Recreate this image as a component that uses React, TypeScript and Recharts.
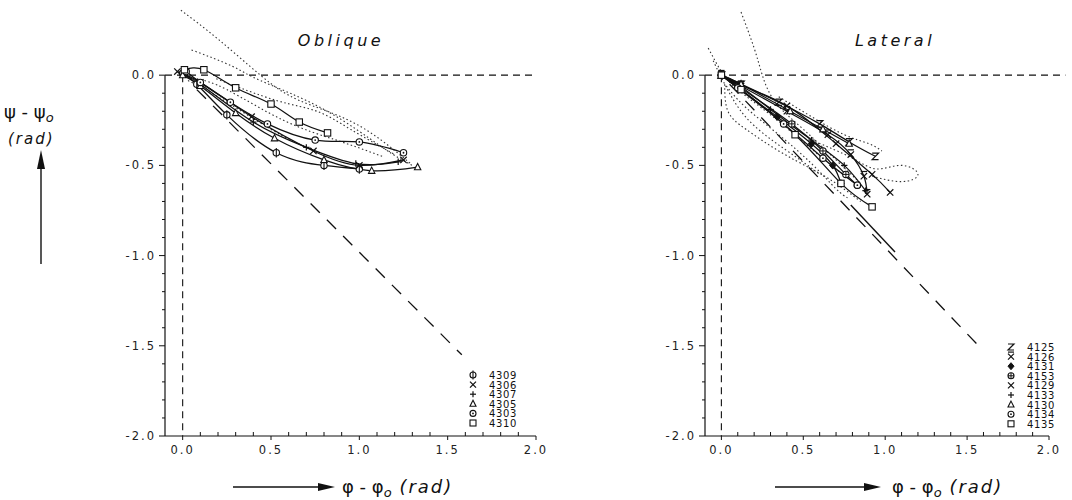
import React from "react";
import { LineChart, Line, XAxis, YAxis, ReferenceLine } from "recharts";

// --- tick values ---
const xTicks = [0, 0.1, 0.2, 0.3, 0.4, 0.5, 0.6, 0.7, 0.8, 0.9, 1.0, 1.1, 1.2, 1.3, 1.4, 1.5, 1.6, 1.7, 1.8, 1.9, 2.0];
const yTicks = [0, -0.1, -0.2, -0.3, -0.4, -0.5, -0.6, -0.7, -0.8, -0.9, -1.0, -1.1, -1.2, -1.3, -1.4, -1.5, -1.6, -1.7, -1.8, -1.9, -2.0];

// --- Oblique: measured runs (solid) ---
const obl4309 = [{ x: 0, y: 0.01 }, { x: 0.08, y: -0.05 }, { x: 0.25, y: -0.22 }, { x: 0.53, y: -0.43 }, { x: 0.8, y: -0.5 }, { x: 1.0, y: -0.52 }];
const obl4306 = [{ x: -0.03, y: 0.02 }, { x: 0.1, y: -0.04 }, { x: 0.39, y: -0.23 }, { x: 0.74, y: -0.42 }, { x: 1.0, y: -0.5 }, { x: 1.25, y: -0.47 }];
const obl4307 = [{ x: 0, y: 0 }, { x: 0.1, y: -0.05 }, { x: 0.4, y: -0.26 }, { x: 0.7, y: -0.4 }, { x: 0.98, y: -0.49 }, { x: 1.22, y: -0.48 }];
const obl4305 = [{ x: 0, y: 0 }, { x: 0.1, y: -0.06 }, { x: 0.3, y: -0.21 }, { x: 0.52, y: -0.35 }, { x: 0.8, y: -0.47 }, { x: 1.07, y: -0.53 }, { x: 1.33, y: -0.51 }];
const obl4303 = [{ x: 0.02, y: 0.02 }, { x: 0.1, y: -0.04 }, { x: 0.27, y: -0.15 }, { x: 0.48, y: -0.27 }, { x: 0.75, y: -0.36 }, { x: 1.0, y: -0.37 }, { x: 1.25, y: -0.43 }];
const obl4310 = [{ x: 0.01, y: 0.03 }, { x: 0.12, y: 0.03 }, { x: 0.3, y: -0.07 }, { x: 0.5, y: -0.16 }, { x: 0.66, y: -0.26 }, { x: 0.82, y: -0.32 }];

// --- Oblique: dotted runs ---
const oblDot1 = [{ x: -0.01, y: 0.36 }, { x: 0.2, y: 0.2 }, { x: 0.44, y: 0.0 }, { x: 0.66, y: -0.14 }, { x: 0.98, y: -0.27 }, { x: 1.29, y: -0.49 }];
const oblDot2 = [{ x: 0.05, y: 0.14 }, { x: 0.28, y: 0.05 }, { x: 0.44, y: -0.03 }, { x: 0.8, y: -0.19 }, { x: 1.13, y: -0.4 }, { x: 1.3, y: -0.5 }];
const oblDot3 = [{ x: 0.19, y: -0.02 }, { x: 0.53, y: -0.14 }, { x: 0.76, y: -0.2 }, { x: 0.95, y: -0.3 }, { x: 1.2, y: -0.44 }];
const oblDot4 = [{ x: 0.08, y: -0.02 }, { x: 0.25, y: -0.08 }, { x: 0.57, y: -0.25 }, { x: 0.87, y: -0.36 }, { x: 1.13, y: -0.45 }];
const oblDot5 = [{ x: 0.03, y: -0.03 }, { x: 0.2, y: -0.12 }, { x: 0.5, y: -0.3 }, { x: 0.7, y: -0.4 }];
const oblDiag = [{ x: 0.08, y: -0.08 }, { x: 1.58, y: -1.55 }];

// --- Lateral: measured runs (solid) ---
const lat4125 = [{ x: 0, y: 0 }, { x: 0.12, y: -0.05 }, { x: 0.35, y: -0.15 }, { x: 0.6, y: -0.27 }, { x: 0.78, y: -0.37 }, { x: 0.94, y: -0.45 }];
const lat4126 = [{ x: 0, y: 0 }, { x: 0.12, y: -0.06 }, { x: 0.4, y: -0.2 }, { x: 0.65, y: -0.33 }, { x: 0.79, y: -0.44 }, { x: 0.87, y: -0.56 }, { x: 0.89, y: -0.66 }];
const lat4131 = [{ x: 0, y: 0 }, { x: 0.1, y: -0.07 }, { x: 0.34, y: -0.23 }, { x: 0.55, y: -0.38 }, { x: 0.68, y: -0.5 }, { x: 0.73, y: -0.6 }];
const lat4153 = [{ x: 0, y: 0 }, { x: 0.1, y: -0.06 }, { x: 0.43, y: -0.27 }, { x: 0.62, y: -0.42 }, { x: 0.76, y: -0.55 }, { x: 0.83, y: -0.61 }];
const lat4129 = [{ x: 0, y: 0 }, { x: 0.1, y: -0.05 }, { x: 0.4, y: -0.17 }, { x: 0.7, y: -0.38 }, { x: 0.92, y: -0.55 }, { x: 1.03, y: -0.65 }];
const lat4133 = [{ x: 0, y: 0 }, { x: 0.1, y: -0.05 }, { x: 0.3, y: -0.19 }, { x: 0.55, y: -0.36 }, { x: 0.75, y: -0.5 }, { x: 0.88, y: -0.64 }];
const lat4130 = [{ x: 0, y: 0 }, { x: 0.12, y: -0.05 }, { x: 0.42, y: -0.2 }, { x: 0.62, y: -0.3 }, { x: 0.78, y: -0.38 }];
const lat4134 = [{ x: 0, y: 0 }, { x: 0.1, y: -0.07 }, { x: 0.38, y: -0.27 }, { x: 0.62, y: -0.46 }, { x: 0.83, y: -0.61 }];
const lat4135 = [{ x: 0, y: 0 }, { x: 0.12, y: -0.08 }, { x: 0.45, y: -0.33 }, { x: 0.73, y: -0.6 }, { x: 0.92, y: -0.73 }];

// --- Lateral: dotted runs ---
const latDot1 = [{ x: -0.08, y: 0.15 }, { x: 0.0, y: 0.02 }, { x: 0.1, y: -0.08 }, { x: 0.3, y: -0.22 }, { x: 0.5, y: -0.37 }, { x: 0.7, y: -0.52 }, { x: 0.85, y: -0.62 }];
const latDot2 = [{ x: 0.12, y: 0.35 }, { x: 0.2, y: 0.15 }, { x: 0.25, y: 0.0 }, { x: 0.33, y: -0.15 }, { x: 0.5, y: -0.3 }, { x: 0.7, y: -0.47 }, { x: 0.85, y: -0.6 }];
const latDot3 = [{ x: 0.02, y: -0.05 }, { x: 0.04, y: -0.2 }, { x: 0.15, y: -0.3 }, { x: 0.35, y: -0.42 }, { x: 0.55, y: -0.52 }, { x: 0.7, y: -0.6 }, { x: 0.85, y: -0.7 }];
const latDot4 = [{ x: 0.03, y: -0.06 }, { x: 0.15, y: -0.18 }, { x: 0.35, y: -0.33 }, { x: 0.55, y: -0.49 }, { x: 0.7, y: -0.63 }, { x: 0.77, y: -0.68 }];
const latDot5 = [{ x: 0.55, y: -0.36 }, { x: 0.8, y: -0.46 }, { x: 0.95, y: -0.52 }, { x: 1.1, y: -0.5 }, { x: 1.2, y: -0.55 }, { x: 1.1, y: -0.59 }, { x: 0.92, y: -0.56 }];
const latDot6 = [{ x: 0.35, y: -0.12 }, { x: 0.55, y: -0.23 }, { x: 0.75, y: -0.33 }, { x: 0.9, y: -0.38 }, { x: 0.98, y: -0.42 }];
const latDot7 = [{ x: -0.05, y: 0.08 }, { x: 0.05, y: -0.1 }, { x: 0.2, y: -0.28 }, { x: 0.45, y: -0.45 }, { x: 0.6, y: -0.55 }];
const latSeg = [{ x: 0.79, y: -0.72 }, { x: 1.06, y: -0.98 }];
const latDiag = [{ x: 0.05, y: -0.05 }, { x: 1.57, y: -1.5 }];

const obliqueRuns = [
  { name: "4309", shape: "circleBar", data: obl4309 },
  { name: "4306", shape: "x", data: obl4306 },
  { name: "4307", shape: "plus", data: obl4307 },
  { name: "4305", shape: "triangle", data: obl4305 },
  { name: "4303", shape: "circleDot", data: obl4303 },
  { name: "4310", shape: "square", data: obl4310 },
];
const lateralRuns = [
  { name: "4125", shape: "z", data: lat4125 },
  { name: "4126", shape: "xbar", data: lat4126 },
  { name: "4131", shape: "diamond", data: lat4131 },
  { name: "4153", shape: "circlePlus", data: lat4153 },
  { name: "4129", shape: "x", data: lat4129 },
  { name: "4133", shape: "plus", data: lat4133 },
  { name: "4130", shape: "triangle", data: lat4130 },
  { name: "4134", shape: "circleDot", data: lat4134 },
  { name: "4135", shape: "square", data: lat4135 },
];

const FONT = '"DejaVu Sans", sans-serif';
const INK = "#111";

function Marker({ shape, cx, cy, r = 3.2 }: { shape: string; cx: number; cy: number; r?: number }) {
  const st = { stroke: INK, strokeWidth: 1.1, fill: "#fff" };
  switch (shape) {
    case "square":
      return <rect x={cx - r} y={cy - r} width={2 * r} height={2 * r} {...st} />;
    case "circleDot":
      return (
        <g>
          <circle cx={cx} cy={cy} r={r} {...st} />
          <circle cx={cx} cy={cy} r={0.9} fill={INK} />
        </g>
      );
    case "circleBar":
      return (
        <g>
          <circle cx={cx} cy={cy} r={r} {...st} />
          <line x1={cx} x2={cx} y1={cy - r - 1.5} y2={cy + r + 1.5} stroke={INK} strokeWidth={1.1} />
        </g>
      );
    case "circlePlus":
      return (
        <g>
          <circle cx={cx} cy={cy} r={r} {...st} />
          <line x1={cx - r} x2={cx + r} y1={cy} y2={cy} stroke={INK} strokeWidth={1} />
          <line x1={cx} x2={cx} y1={cy - r} y2={cy + r} stroke={INK} strokeWidth={1} />
        </g>
      );
    case "triangle":
      return <polygon points={`${cx},${cy - r - 0.5} ${cx - r},${cy + r * 0.8} ${cx + r},${cy + r * 0.8}`} {...st} />;
    case "x":
      return (
        <g stroke={INK} strokeWidth={1.2}>
          <line x1={cx - r} y1={cy - r} x2={cx + r} y2={cy + r} />
          <line x1={cx - r} y1={cy + r} x2={cx + r} y2={cy - r} />
        </g>
      );
    case "xbar":
      return (
        <g stroke={INK} strokeWidth={1.2}>
          <line x1={cx - r} y1={cy - r} x2={cx + r} y2={cy + r} />
          <line x1={cx - r} y1={cy + r} x2={cx + r} y2={cy - r} />
          <line x1={cx - r} y1={cy - r - 1.5} x2={cx + r} y2={cy - r - 1.5} />
        </g>
      );
    case "plus":
      return (
        <g stroke={INK} strokeWidth={1.2}>
          <line x1={cx - r} y1={cy} x2={cx + r} y2={cy} />
          <line x1={cx} y1={cy - r} x2={cx} y2={cy + r} />
        </g>
      );
    case "z":
      return <polyline points={`${cx - r},${cy - r} ${cx + r},${cy - r} ${cx - r},${cy + r} ${cx + r},${cy + r}`} fill="none" stroke={INK} strokeWidth={1.2} />;
    case "diamond":
      return <polygon points={`${cx},${cy - r - 0.5} ${cx + r},${cy} ${cx},${cy + r + 0.5} ${cx - r},${cy}`} fill={INK} stroke={INK} />;
    default:
      return <circle cx={cx} cy={cy} r={r} {...st} />;
  }
}

const isMajor = (v: number) => Math.abs(v * 2 - Math.round(v * 2)) < 1e-6;
const fmt = (v: number) => (Math.abs(v) < 1e-9 ? "0.0" : v.toFixed(1));

function XTick({ x, y, payload }: any) {
  const v = payload.value;
  const major = isMajor(v);
  return (
    <g>
      <line x1={x} x2={x} y1={major ? y : y - 4} y2={major ? y + 4 : y} stroke={INK} strokeWidth={1} />
      {major && (
        <text x={x} y={y + 18} textAnchor="middle" fontSize={11.5} letterSpacing={2} fontFamily={FONT} fill="#222">
          {fmt(v)}
        </text>
      )}
    </g>
  );
}

function YTick({ x, y, payload }: any) {
  const v = payload.value;
  const major = isMajor(v);
  return (
    <g>
      <line x1={major ? x - 6 : x - 3} x2={x} y1={y} y2={y} stroke={INK} strokeWidth={1} />
      {major && (
        <text x={x - 9} y={y + 4} textAnchor="end" fontSize={11.5} letterSpacing={2} fontFamily={FONT} fill="#222">
          {fmt(v)}
        </text>
      )}
    </g>
  );
}

function Panel({ runs, dotted, solidExtra, diag, width, right, zeroEnd }: any) {
  return (
    <LineChart width={width} height={470} margin={{ top: 3, right, bottom: 4, left: 0 }}>
      <XAxis
        dataKey="x"
        type="number"
        domain={[-0.1, 2.0]}
        ticks={xTicks}
        interval={0}
        height={30}
        tickSize={0}
        tickMargin={0}
        tickLine={false}
        axisLine={{ stroke: INK, strokeWidth: 1.2 }}
        tick={(p: any) => <XTick {...p} />}
      />
      <YAxis
        type="number"
        domain={[-2.0, 0.4]}
        ticks={yTicks}
        interval={0}
        width={165}
        tickSize={0}
        tickMargin={0}
        tickLine={false}
        axisLine={false}
        tick={(p: any) => <YTick {...p} />}
      />
      <ReferenceLine segment={[{ x: -0.1, y: 0 }, { x: -0.1, y: -2.0 }]} stroke={INK} strokeWidth={1.2} />
      <ReferenceLine segment={[{ x: 0, y: 0 }, { x: 0, y: -2.0 }]} stroke={INK} strokeWidth={1.1} strokeDasharray="7 5" />
      <ReferenceLine segment={[{ x: -0.1, y: 0 }, { x: zeroEnd, y: 0 }]} ifOverflow="visible" stroke={INK} strokeWidth={1.1} strokeDasharray="7 5" />
      <Line data={diag} dataKey="y" type="linear" stroke={INK} strokeWidth={1.3} strokeDasharray="13 10" dot={false} activeDot={false} isAnimationActive={false} />
      {dotted.map((d: any, i: number) => (
        <Line key={`dot-${i}`} data={d} dataKey="y" type="natural" stroke="#333" strokeWidth={1.1} strokeDasharray="1.5 2.5" dot={false} activeDot={false} isAnimationActive={false} />
      ))}
      {solidExtra.map((d: any, i: number) => (
        <Line key={`seg-${i}`} data={d} dataKey="y" type="linear" stroke={INK} strokeWidth={1.4} dot={false} activeDot={false} isAnimationActive={false} />
      ))}
      {runs.map((r: any) => (
        <Line
          key={r.name}
          data={r.data}
          dataKey="y"
          type="natural"
          stroke={INK}
          strokeWidth={1.25}
          activeDot={false}
          isAnimationActive={false}
          dot={(p: any) => <Marker key={`${r.name}-${p.index}`} shape={r.shape} cx={p.cx} cy={p.cy} />}
        />
      ))}
    </LineChart>
  );
}

function LegendBlock({ runs, x, y }: { runs: any[]; x: number; y: number }) {
  return (
    <g>
      {runs.map((r, i) => (
        <g key={r.name}>
          <Marker shape={r.shape} cx={x} cy={y + i * 9.6} r={3} />
          <text x={x + 16} y={y + i * 9.6 + 4} fontSize={10} letterSpacing={0.6} fontFamily={FONT} fill={INK}>
            {r.name}
          </text>
        </g>
      ))}
    </g>
  );
}

export default function App() {
  return (
    <div style={{ position: "absolute", left: 0, top: 0, width: 1072, height: 500, background: "#fff", fontFamily: FONT, overflow: "hidden" }}>
      <div style={{ position: "absolute", left: 0, top: 0 }}>
        <Panel runs={obliqueRuns} dotted={[oblDot1, oblDot2, oblDot3, oblDot4, oblDot5]} solidExtra={[]} diag={oblDiag} width={560} right={24} zeroEnd={2.0} />
      </div>
      <div style={{ position: "absolute", left: 540, top: 0 }}>
        <Panel runs={lateralRuns} dotted={[latDot1, latDot2, latDot3, latDot4, latDot5, latDot6, latDot7]} solidExtra={[latSeg]} diag={latDiag} width={532} right={23} zeroEnd={2.1} />
      </div>
      <svg width={1072} height={500} style={{ position: "absolute", left: 0, top: 0, pointerEvents: "none" }}>
        <text x={341} y={46} textAnchor="middle" fontSize={16} fontStyle="italic" letterSpacing={3.5} fontFamily={FONT} fill={INK}>Oblique</text>
        <text x={895} y={46} textAnchor="middle" fontSize={16} fontStyle="italic" letterSpacing={3.5} fontFamily={FONT} fill={INK}>Lateral</text>

        <text x={4} y={118} fontSize={18} fontFamily={FONT} fill={INK}>
          ψ - ψ<tspan dy={4} fontSize={13} fontStyle="italic">o</tspan>
        </text>
        <text x={8} y={144} fontSize={15} fontStyle="italic" letterSpacing={2} fontFamily={FONT} fill={INK}>(rad)</text>
        <line x1={41} x2={41} y1={264} y2={166} stroke={INK} strokeWidth={1.4} />
        <polygon points="41,150 37,169 45,169" fill={INK} />

        <line x1={233} x2={320} y1={487} y2={487} stroke={INK} strokeWidth={1.4} />
        <polygon points="335,487 318,483 318,491" fill={INK} />
        <text x={342} y={493} fontSize={18} fontFamily={FONT} fill={INK}>
          φ - φ<tspan dy={4} fontSize={13} fontStyle="italic">o</tspan>
          <tspan dy={-4} fontStyle="italic" letterSpacing={2}> (rad)</tspan>
        </text>

        <line x1={775} x2={866} y1={487} y2={487} stroke={INK} strokeWidth={1.4} />
        <polygon points="881,487 864,483 864,491" fill={INK} />
        <text x={892} y={493} fontSize={18} fontFamily={FONT} fill={INK}>
          φ - φ<tspan dy={4} fontSize={13} fontStyle="italic">o</tspan>
          <tspan dy={-4} fontStyle="italic" letterSpacing={2}> (rad)</tspan>
        </text>

        <LegendBlock runs={obliqueRuns} x={473} y={375} />
        <LegendBlock runs={lateralRuns} x={1011} y={347} />
      </svg>
    </div>
  );
}
